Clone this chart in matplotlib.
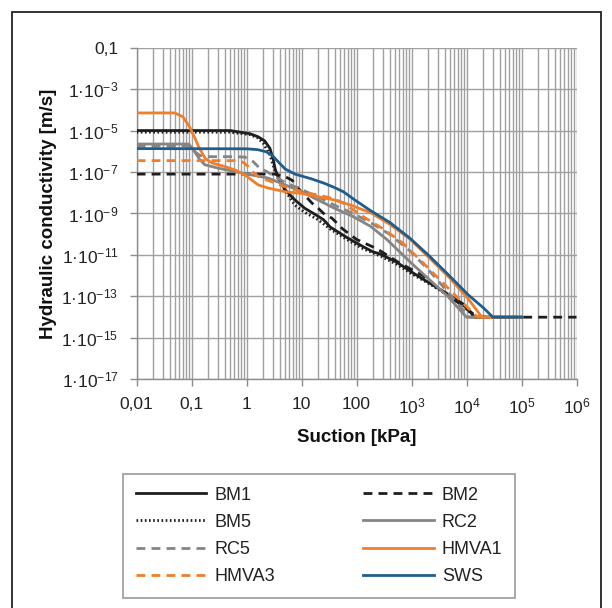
import numpy as np
import matplotlib
matplotlib.use("Agg")
import matplotlib.pyplot as plt
from matplotlib.patches import Rectangle
from matplotlib.ticker import FixedLocator, LogLocator, NullFormatter

plt.rcParams['font.family'] = ['Liberation Sans', 'DejaVu Sans']
plt.rcParams['mathtext.fontset'] = 'custom'
plt.rcParams['mathtext.rm'] = 'Liberation Sans'
plt.rcParams['mathtext.it'] = 'Liberation Sans:italic'
plt.rcParams['mathtext.bf'] = 'Liberation Sans:bold'

# ---- data (log10 of suction [kPa] and log10 of hydraulic conductivity [m/s]) ----
bm1_logs = [-2, -0.3, 0.06, 0.21, 0.33, 0.425, 0.485, 0.52, 0.58, 0.7, 0.88, 1.06, 1.25, 1.4, 1.52,
            1.82, 2.12, 2.3, 2.43, 2.73, 3.03, 3.33, 3.64, 3.93, 4.15, 5]
bm1_logk = [-5.0, -5.0, -5.15, -5.3, -5.5, -5.86, -6.4, -6.85, -7.3, -7.85, -8.35, -8.75, -9.05, -9.3,
            -9.65, -10.15, -10.6, -10.85, -10.95, -11.35, -11.87, -12.36, -12.85, -13.35, -14, -14]

bm2_logs = [-2, 0.52, 0.7, 0.83, 0.93, 1.0, 1.19, 1.28, 1.43, 1.55, 1.75, 2.0, 2.37, 2.79, 3.21, 3.5,
            3.93, 4.2, 6]
bm2_logk = [-7.1, -7.1, -7.22, -7.4, -7.77, -7.96, -8.5, -8.69, -9.07, -9.22, -9.75, -10.25, -10.7,
            -11.4, -12.0, -12.65, -13.45, -14, -14]

bm5_logs = [-2, -0.3, 0.06, 0.2, 0.3, 0.42, 0.48, 0.55, 0.7, 0.88, 1.06, 1.3, 1.52, 1.82, 2.12, 2.43,
            2.73, 3.03, 3.33, 3.64, 3.93, 4.15, 5]
bm5_logk = [-5.08, -5.08, -5.2, -5.35, -5.6, -6.15, -6.65, -7.2, -7.9, -8.6, -8.95, -9.3, -9.75,
            -10.25, -10.7, -11.05, -11.45, -11.95, -12.4, -12.9, -13.4, -14, -14]

rc2_logs = [-2, -1.05, -0.95, -0.85, -0.76, -0.52, -0.21, 0.09, 0.39, 0.7, 1.0, 1.3, 1.6, 1.94, 2.26,
            2.55, 3.0, 3.33, 3.66, 4.0, 5]
rc2_logk = [-5.65, -5.65, -6.0, -6.4, -6.65, -6.81, -6.98, -7.14, -7.29, -7.62, -7.95, -8.35, -8.75,
            -9.15, -9.63, -10.25, -11.4, -12.2, -13.0, -14, -14]

rc5_logs = [-2, -1.05, -0.95, -0.85, -0.7, -0.2, -0.03, 0.12, 0.24, 0.37, 0.5, 0.7, 1.0, 1.3, 1.6,
            1.94, 2.26, 2.6, 2.97, 3.32, 3.68, 4.05, 5]
rc5_logk = [-5.75, -5.75, -6.0, -6.2, -6.26, -6.26, -6.28, -6.5, -6.82, -6.98, -7.2, -7.5, -7.85,
            -8.2, -8.6, -9.0, -9.45, -10.0, -10.8, -11.75, -12.85, -14, -14]

hmva1_logs = [-2, -1.31, -1.16, -1.04, -0.95, -0.86, -0.75, -0.63, -0.39, -0.21, -0.03, 0.09, 0.21,
              0.39, 0.7, 1.0, 1.3, 1.6, 1.9, 2.26, 2.61, 2.97, 3.32, 3.68, 4.03, 4.28, 5]
hmva1_logk = [-4.15, -4.15, -4.33, -4.8, -5.3, -5.85, -6.35, -6.56, -6.74, -6.9, -7.14, -7.38, -7.62,
              -7.77, -7.95, -8.03, -8.19, -8.35, -8.6, -8.97, -9.53, -10.23, -11.13, -12.07, -13.11,
              -14, -14]

hmva3_logs = [-2, -0.15, -0.05, 0.03, 0.15, 0.27, 0.46, 0.7, 0.88, 1.05, 1.3, 1.6, 1.76, 2.12, 2.47,
              2.83, 3.18, 3.54, 3.89, 4.2, 5]
hmva3_logk = [-6.45, -6.45, -6.55, -6.74, -7.1, -7.3, -7.47, -7.71, -7.85, -8.0, -8.1, -8.3, -8.5,
              -9.15, -9.72, -10.4, -11.3, -12.26, -13.2, -14, -14]

sws_logs = [-2, 0.0, 0.2, 0.35, 0.46, 0.58, 0.7, 0.88, 1.18, 1.42, 1.6, 1.76, 1.97, 2.26, 2.61, 2.97,
            3.32, 3.68, 4.03, 4.32, 4.48, 5]
sws_logk = [-5.87, -5.88, -5.92, -6.02, -6.18, -6.52, -6.85, -7.1, -7.33, -7.55, -7.75, -7.95, -8.35,
            -8.87, -9.44, -10.19, -11.04, -11.98, -12.92, -13.58, -14, -14]

x_tick_exps = [-2, -1, 0, 1, 2, 3, 4, 5, 6]
x_tick_labels = ['0,01', '0,1', '1', '10', '100',
                 r'$\mathregular{10^{3}}$', r'$\mathregular{10^{4}}$',
                 r'$\mathregular{10^{5}}$', r'$\mathregular{10^{6}}$']
y_tick_exps = [-1, -3, -5, -7, -9, -11, -13, -15, -17]
y_tick_labels = ['0,1'] + [r'$\mathregular{1·10^{%d}}$' % e for e in y_tick_exps[1:]]

BLACK = '#1e1e1e'
GRAY = '#858585'
ORANGE = '#F07E2A'
BLUE = '#1F5E8C'

series = [
    ('BM1', bm1_logs, bm1_logk, BLACK, '-'),
    ('BM2', bm2_logs, bm2_logk, BLACK, (0, (3.2, 2.2))),
    ('BM5', bm5_logs, bm5_logk, BLACK, (0, (0.6, 0.9))),
    ('RC2', rc2_logs, rc2_logk, GRAY, '-'),
    ('RC5', rc5_logs, rc5_logk, GRAY, (0, (3.2, 2.2))),
    ('HMVA1', hmva1_logs, hmva1_logk, ORANGE, '-'),
    ('HMVA3', hmva3_logs, hmva3_logk, ORANGE, (0, (3.2, 2.2))),
    ('SWS', sws_logs, sws_logk, BLUE, '-'),
]

fig = plt.figure(figsize=(6.12, 6.08), dpi=100)
ax = fig.add_axes([136.6 / 612, 1 - 379.4 / 608, (576.5 - 136.6) / 612, (379.4 - 47.6) / 608])

handles = {}
for name, xs, ys, col, ls in series:
    h, = ax.plot(10.0 ** np.array(xs), 10.0 ** np.array(ys), color=col, linestyle=ls,
                 linewidth=2.0, solid_joinstyle='round', dash_capstyle='butt', label=name, zorder=3)
    handles[name] = h

ax.set_xscale('log')
ax.set_yscale('log')
ax.set_xlim(1e-2, 1e6)
ax.set_ylim(1e-17, 1e-1)

ax.xaxis.set_major_locator(FixedLocator([10.0 ** e for e in x_tick_exps]))
ax.xaxis.set_minor_locator(LogLocator(base=10, subs=np.arange(2, 10), numticks=100))
ax.xaxis.set_minor_formatter(NullFormatter())
ax.set_xticklabels(x_tick_labels)
ax.yaxis.set_major_locator(FixedLocator([10.0 ** e for e in y_tick_exps]))
ax.yaxis.set_minor_locator(FixedLocator([]))
ax.set_yticklabels(y_tick_labels)

gridc = '#a0a0a0'
ax.grid(True, which='major', axis='both', color=gridc, linewidth=1.0, zorder=0)
ax.grid(True, which='minor', axis='x', color=gridc, linewidth=1.0, zorder=0)
ax.set_axisbelow(True)

for s in ['top', 'right']:
    ax.spines[s].set_visible(False)
for s in ['left', 'bottom']:
    ax.spines[s].set_color('#8c8c8c')
    ax.spines[s].set_linewidth(1.0)

ax.tick_params(axis='both', which='major', direction='out', length=5, width=1.0, color='#8c8c8c',
               labelsize=12.5, labelcolor='#222222')
ax.tick_params(axis='x', which='major', pad=7.5)
ax.tick_params(axis='y', which='major', pad=8)
ax.tick_params(axis='x', which='minor', length=0)

ax.set_xlabel('Suction [kPa]', fontsize=13.5, fontweight='bold', labelpad=9, color='#111111')
ax.set_ylabel('Hydraulic conductivity [m/s]', fontsize=13.5, fontweight='bold', labelpad=3,
              color='#111111')

order = ['BM1', 'BM5', 'RC5', 'HMVA3', 'BM2', 'RC2', 'HMVA1', 'SWS']
leg = fig.legend([handles[n] for n in order], order, ncol=2,
                 loc='upper left', bbox_to_anchor=(123 / 612, 1 - 474 / 608, (515 - 123) / 612, 0.0),
                 mode='expand', fontsize=13, handlelength=3.9, handletextpad=0.45,
                 labelspacing=0.56, borderpad=0.7, fancybox=False, frameon=True,
                 borderaxespad=0.0)
leg.get_frame().set_edgecolor('#808080')
leg.get_frame().set_linewidth(1.2)
for t in leg.get_texts():
    t.set_color('#222222')

fig.patches.append(Rectangle((12 / 612, -0.02), (601 - 12) / 612, 1 - 12 / 608 + 0.02,
                             transform=fig.transFigure, fill=False, edgecolor='#222222',
                             linewidth=1.3))

fig.savefig('out.png', dpi=100)
